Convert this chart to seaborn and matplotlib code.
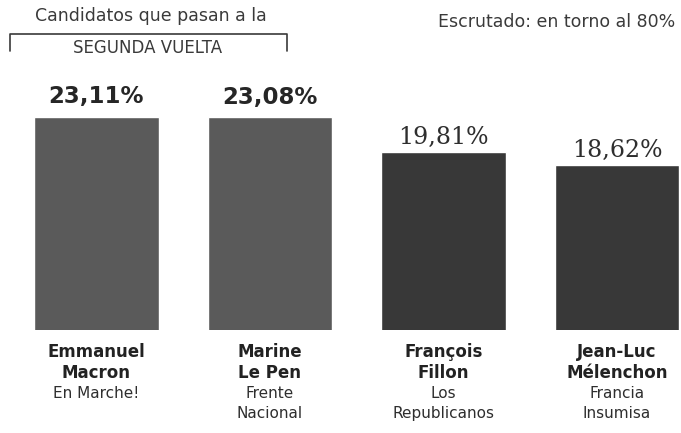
import numpy as np
import pandas as pd
import seaborn as sns
import matplotlib.pyplot as plt

# Datos
candidatos = ['Emmanuel\nMacron', 'Marine\nLe Pen', 'François\nFillon', 'Jean-Luc\nMélenchon']
partidos = ['En Marche!', 'Frente\nNacional', 'Los\nRepublicanos', 'Francia\nInsumisa']
votos = [23.11, 23.08, 19.81, 18.62]
segunda_vuelta = [True, True, False, False]

colores = ['#5a5a5a', '#5a5a5a', '#383838', '#383838']
texto = '#2e2e2e'

sns.set_theme(style='white')
plt.rcParams['font.family'] = ['DejaVu Sans']

df = pd.DataFrame({'candidato': candidatos, 'voto': votos})

fig = plt.figure(figsize=(6.81, 4.33), dpi=100)
ax = fig.add_axes([0, 0.238, 1, 0.762])

sns.barplot(data=df, x='candidato', y='voto', hue='candidato', palette=colores,
            width=0.72, legend=False, ax=ax, saturation=1)

ax.set_xlim(-0.556, 3.369)
ax.set_ylim(3.2, 34.07)
ax.axis('off')

# Porcentajes sobre las barras
for i, (bar, v) in enumerate(zip(ax.patches, votos)):
    etiqueta = f'{v:.2f}%'.replace('.', ',')
    xc = bar.get_x() + bar.get_width() / 2
    if segunda_vuelta[i]:
        ax.annotate(etiqueta, (xc, bar.get_height()), xytext=(0, 10),
                    textcoords='offset points', ha='center', va='baseline',
                    fontsize=16.5, fontweight='bold', color='#262626')
    else:
        ax.annotate(etiqueta, (xc, bar.get_height()), xytext=(0, 6),
                    textcoords='offset points', ha='center', va='baseline',
                    fontsize=17, family='DejaVu Serif', color=texto)

# Nombres y partidos debajo
for i, (nombre, partido) in enumerate(zip(candidatos, partidos)):
    ax.annotate(nombre, (i, (433 - 343) / 433), xycoords=('data', 'figure fraction'),
                ha='center', va='top', fontsize=12, fontweight='bold',
                color='#222222', linespacing=1.25)
    ax.annotate(partido, (i, (433 - 386) / 433), xycoords=('data', 'figure fraction'),
                ha='center', va='top', fontsize=11,
                color=texto, linespacing=1.45)

# Cabecera
fig.text(35 / 681, 1 - 16 / 433, 'Candidatos que pasan a la', ha='left', va='center',
         fontsize=12.5, color='#3a3a3a')
fig.text(675 / 681, 1 - 22 / 433, 'Escrutado: en torno al 80%', ha='right', va='center',
         fontsize=12.5, color='#3a3a3a')
fig.text(148 / 681, 1 - 48 / 433, 'SEGUNDA VUELTA', ha='center', va='center',
         fontsize=12, color='#3a3a3a')
xs = np.array([10, 10, 287, 287]) / 681
ys = 1 - np.array([51, 34, 34, 51]) / 433
fig.add_artist(plt.Line2D(xs, ys, color='#3a3a3a', lw=1.2))

fig.savefig('out.png', dpi=100)
